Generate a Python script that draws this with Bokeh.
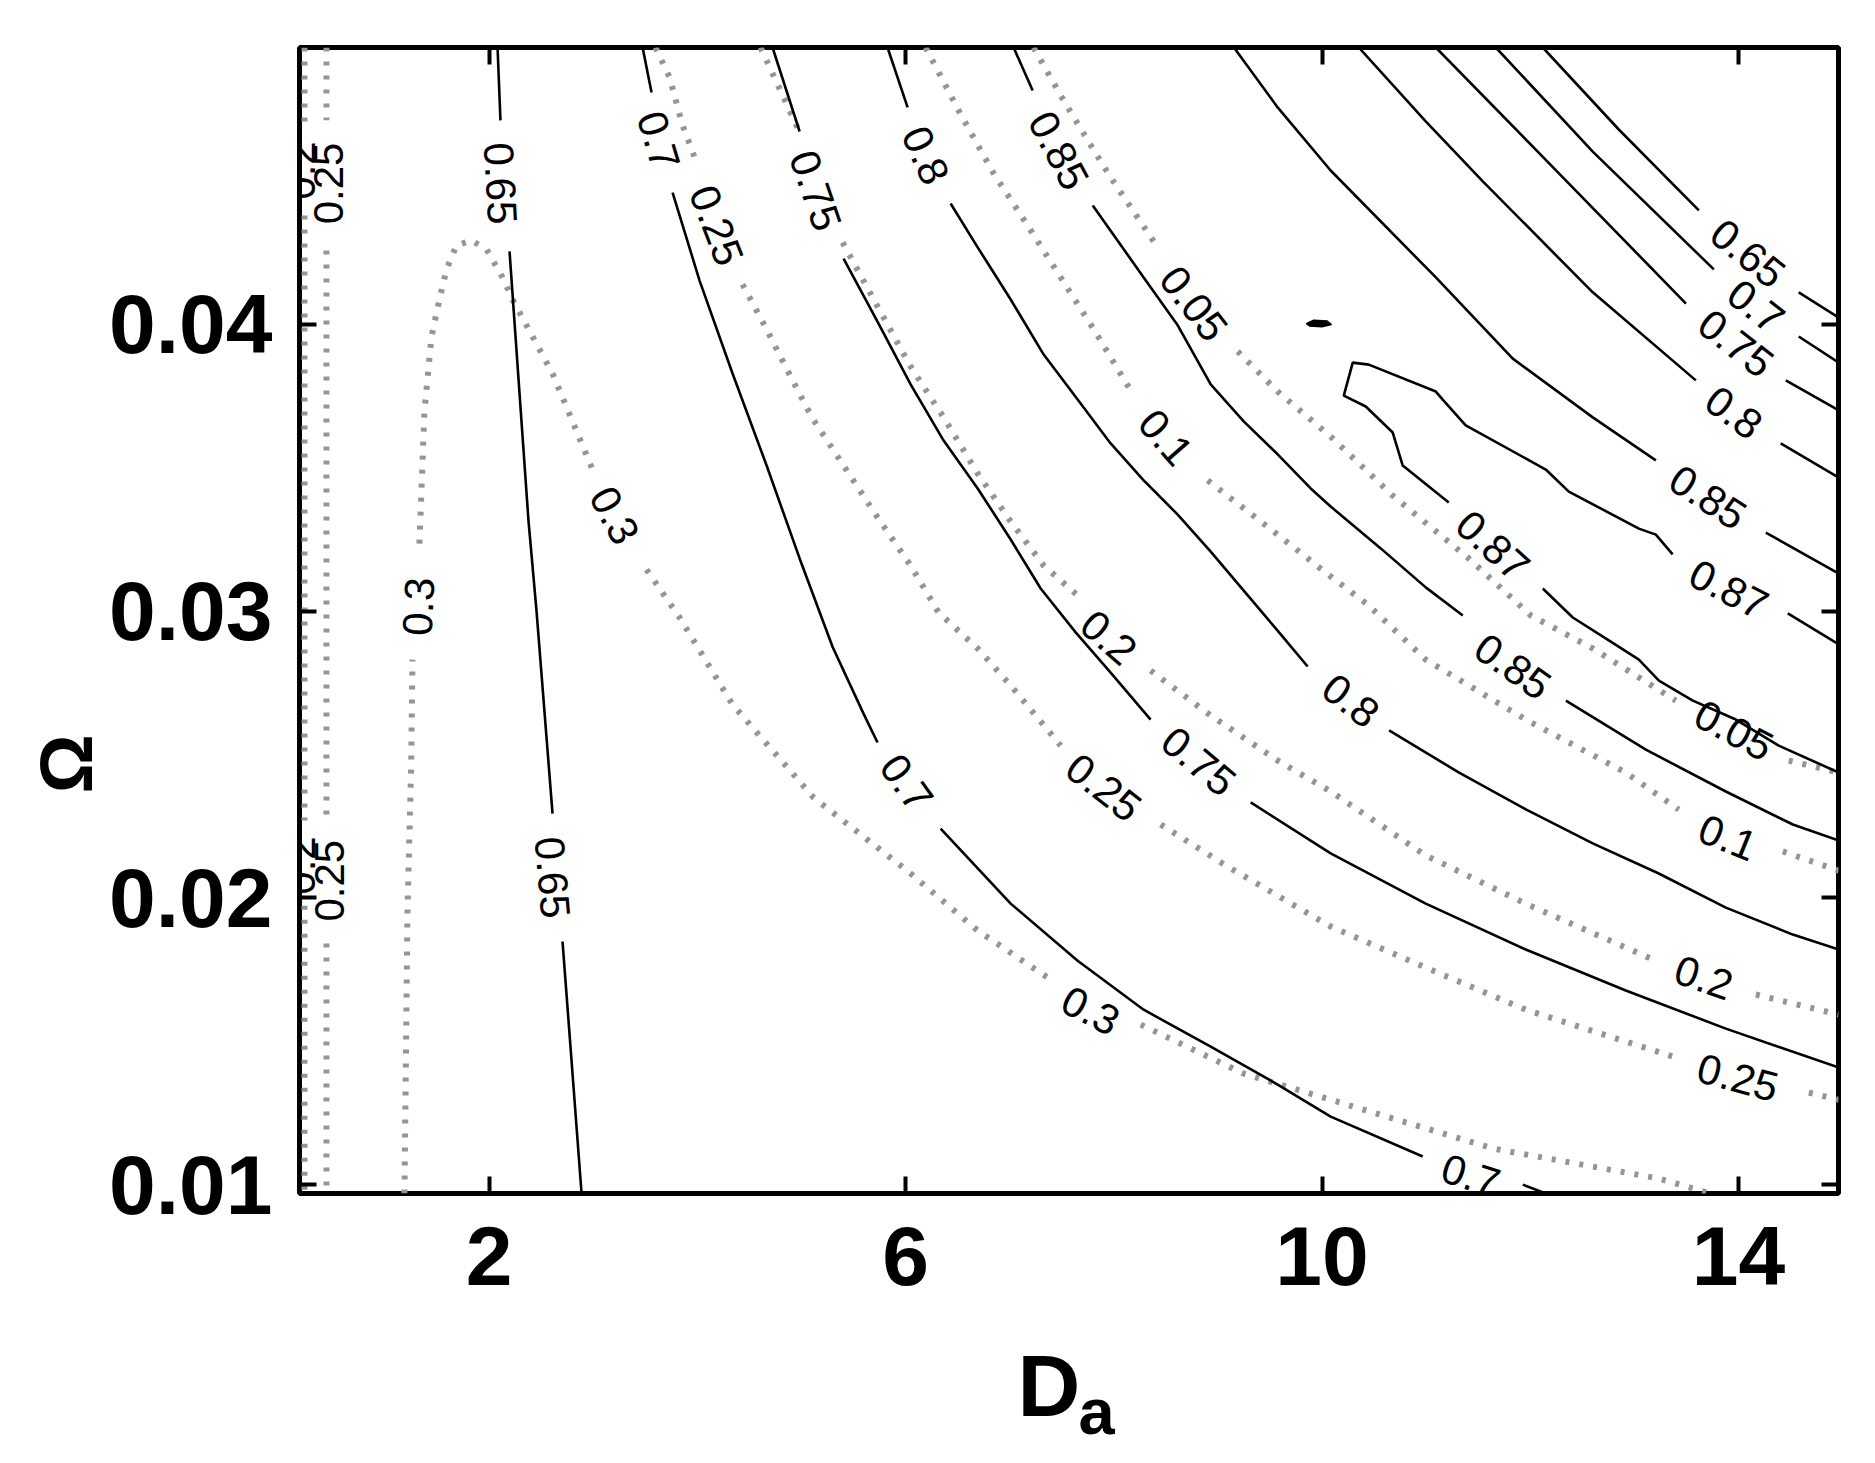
import math
from bokeh.plotting import figure
from bokeh.models import FixedTicker, LinearAxis, Range1d, Title
from bokeh.embed import file_html
from bokeh.resources import INLINE
from bokeh.core.properties import value

# ---------------- axes ----------------
x_limits = [0.18, 14.96]
y_limits = [0.00969, 0.04966]
x_ticks = [2, 6, 10, 14]
x_tick_labels = ["2", "6", "10", "14"]
y_ticks = [0.01, 0.02, 0.03, 0.04]
y_tick_labels = ["0.01", "0.02", "0.03", "0.04"]
x_title = "D"
x_title_sub = "a"
y_title = "\u03a9"

# ---------------- solid contours (segments, broken where labels sit) ----------------
c065_left = [
    [(2.082, 0.04966), (2.110, 0.04712)],
    [(2.197, 0.04255), (2.379, 0.03316), (2.456, 0.03002), (2.610, 0.02294)],
    [(2.706, 0.01848), (2.889, 0.00969)],
]
c070_low = [
    [(3.475, 0.04966), (3.561, 0.04809)],
    [(3.763, 0.04460), (4.022, 0.04153), (4.339, 0.03829), (4.666, 0.03508), (4.983, 0.03184),
     (5.300, 0.02875), (5.600, 0.02640), (5.731, 0.02542)],
    [(6.337, 0.02242), (7.010, 0.01980), (7.653, 0.01781), (8.287, 0.01610), (8.931, 0.01481),
     (9.574, 0.01349), (10.083, 0.01237), (10.967, 0.01098)],
    [(11.928, 0.01000), (12.149, 0.00969)],
]
c075_low = [
    [(4.723, 0.04966), (4.983, 0.04673)],
    [(5.405, 0.04230), (5.731, 0.04010), (6.049, 0.03791), (6.366, 0.03595), (6.693, 0.03428),
     (7.010, 0.03250), (7.298, 0.03079), (7.634, 0.02926), (7.970, 0.02786), (8.354, 0.02622)],
    [(9.315, 0.02333), (10.083, 0.02155), (10.996, 0.01980), (11.956, 0.01820), (12.917, 0.01677),
     (13.878, 0.01544), (14.963, 0.01408)],
]
c080_low = [
    [(5.827, 0.04966), (6.020, 0.04757)],
    [(6.433, 0.04422), (6.693, 0.04269), (7.010, 0.04087), (7.327, 0.03895), (7.653, 0.03738),
     (7.970, 0.03585), (8.287, 0.03456), (8.614, 0.03337), (8.931, 0.03208), (9.248, 0.03072),
     (9.555, 0.02940), (9.862, 0.02807)],
    [(10.644, 0.02584), (11.316, 0.02437), (11.962, 0.02308), (12.600, 0.02190), (13.234, 0.02085),
     (13.878, 0.01966), (14.521, 0.01872), (14.963, 0.01820)],
]
c085_low = [
    [(7.038, 0.04966), (7.221, 0.04816)],
    [(7.798, 0.04415), (8.287, 0.04164), (8.614, 0.03997), (8.931, 0.03791), (9.248, 0.03662),
     (9.574, 0.03547), (9.891, 0.03428), (10.083, 0.03365), (10.564, 0.03219), (10.996, 0.03083),
     (11.352, 0.02985)],
    [(12.342, 0.02688), (13.110, 0.02517), (13.878, 0.02371), (14.521, 0.02256), (14.963, 0.02200)],
]
c087 = [
    [(14.963, 0.02884), (14.473, 0.02992)],
    [(13.367, 0.03198), (13.206, 0.03267), (13.043, 0.03288), (12.370, 0.03417), (12.149, 0.03494),
     (12.024, 0.03519), (11.380, 0.03648), (11.159, 0.03738), (11.093, 0.03766), (10.449, 0.03860),
     (10.295, 0.03867), (10.209, 0.03752), (10.420, 0.03714), (10.679, 0.03623), (10.775, 0.03508),
     (11.217, 0.03379)],
    [(12.120, 0.03079), (12.408, 0.02978), (12.754, 0.02898), (13.043, 0.02831), (13.235, 0.02758),
     (13.561, 0.02688), (13.974, 0.02622), (14.386, 0.02531), (14.963, 0.02437)],
]
c087_islet_x = [9.85, 9.92, 10.05, 10.09, 10.00, 9.88]
c087_islet_y = [0.04003, 0.04015, 0.04012, 0.04000, 0.03992, 0.03995]
c085_up = [
    [(9.154, 0.04966), (9.574, 0.04757), (10.083, 0.04537), (11.093, 0.04164), (11.832, 0.03881),
     (12.600, 0.03676), (13.206, 0.03526)],
    [(14.262, 0.03274), (14.963, 0.03131)],
]
c080_up = [
    [(10.353, 0.04966), (10.996, 0.04708), (11.544, 0.04499), (12.600, 0.04112), (13.590, 0.03805)],
    [(14.405, 0.03585), (14.963, 0.03466)],
]
c075_up = [
    [(11.093, 0.04966), (12.275, 0.04527), (13.495, 0.04073)],
    [(14.454, 0.03805), (14.963, 0.03700)],
]
c070_up = [
    [(11.669, 0.04966), (12.600, 0.04603), (13.763, 0.04192)],
    [(14.578, 0.03958), (14.963, 0.03867)],
]
c065_up = [
    [(12.120, 0.04966), (12.850, 0.04680), (13.619, 0.04398)],
    [(14.578, 0.04112), (14.963, 0.04024)],
]

# ---------------- dotted contours ----------------
d020_left = [
    [(0.228, 0.04966), (0.228, 0.04694)],
    [(0.228, 0.04380), (0.228, 0.02270)],
    [(0.228, 0.01973), (0.228, 0.00969)],
]
d025_left = [
    [(0.439, 0.04966), (0.439, 0.04712)],
    [(0.439, 0.04258), (0.439, 0.02287)],
    [(0.439, 0.01841), (0.439, 0.00969)],
]
d030 = [
    [(1.188, 0.00969), (1.217, 0.01952), (1.252, 0.02451), (1.265, 0.02831)],
    [(1.332, 0.03236), (1.380, 0.03700), (1.448, 0.03958), (1.524, 0.04087), (1.592, 0.04192),
     (1.688, 0.04276), (1.832, 0.04293), (1.976, 0.04262), (2.130, 0.04164), (2.226, 0.04087),
     (2.418, 0.03958), (2.610, 0.03829), (2.802, 0.03662), (2.994, 0.03494)],
    [(3.513, 0.03145), (3.830, 0.02978), (4.339, 0.02674), (5.117, 0.02350), (6.049, 0.02085),
     (6.693, 0.01886), (7.394, 0.01715)],
    [(8.259, 0.01558), (9.248, 0.01387), (10.083, 0.01296), (11.640, 0.01126), (13.234, 0.01021),
     (13.733, 0.00969)],
]
d025 = [
    [(3.599, 0.04966), (3.734, 0.04862), (3.859, 0.04694), (3.993, 0.04565)],
    [(4.435, 0.04140), (4.666, 0.03983), (4.915, 0.03805), (5.107, 0.03672), (5.405, 0.03508),
     (5.731, 0.03327), (6.049, 0.03159), (6.318, 0.02995), (6.693, 0.02870), (7.010, 0.02741),
     (7.490, 0.02531)],
    [(8.451, 0.02256), (9.094, 0.02109), (10.083, 0.01900), (10.996, 0.01757), (11.956, 0.01610),
     (13.426, 0.01440)],
    [(14.675, 0.01321), (14.963, 0.01296)],
]
d020 = [
    [(4.608, 0.04966), (4.790, 0.04823), (4.983, 0.04670)],
    [(5.396, 0.04286), (5.731, 0.04063), (6.049, 0.03853), (6.366, 0.03676), (6.693, 0.03480),
     (7.010, 0.03313), (7.327, 0.03159), (7.653, 0.03055)],
    [(8.354, 0.02793), (8.931, 0.02636), (9.574, 0.02479), (10.083, 0.02371), (10.996, 0.02148),
     (11.956, 0.01980), (13.205, 0.01781)],
    [(14.166, 0.01663), (14.963, 0.01593)],
]
d010 = [
    [(6.193, 0.04966), (6.529, 0.04733), (6.846, 0.04527), (7.173, 0.04345), (7.490, 0.04164),
     (7.808, 0.03983), (8.192, 0.03752)],
    [(8.902, 0.03456), (9.411, 0.03313), (10.083, 0.03121), (10.448, 0.03020), (10.996, 0.02831),
     (11.956, 0.02622), (12.917, 0.02437), (13.426, 0.02308)],
    [(14.425, 0.02162), (14.963, 0.02095)],
]
d005 = [
    [(7.230, 0.04966), (7.490, 0.04799), (7.750, 0.04642), (7.970, 0.04513), (8.422, 0.04269)],
    [(9.190, 0.03906), (9.574, 0.03766), (10.083, 0.03609), (10.679, 0.03403), (11.409, 0.03184),
     (12.005, 0.02985), (12.600, 0.02870), (13.398, 0.02688)],
    [(14.482, 0.02479), (14.963, 0.02437)],
]

# ---------------- contour labels ----------------
label_text = ["0.65", "0.65", "0.7", "0.75", "0.8", "0.85", "0.7", "0.75", "0.8", "0.85",
              "0.87", "0.87", "0.85", "0.8", "0.75", "0.7", "0.65", "0.7",
              "0.2", "0.25", "0.2", "0.25", "0.3", "0.3", "0.25", "0.05", "0.1", "0.2",
              "0.25", "0.3", "0.05", "0.1", "0.2", "0.25"]
label_x = [2.110, 2.610, 3.628, 5.136, 6.193, 7.471, 6.011, 8.815, 10.276, 11.832,
           11.640, 13.907, 13.705, 13.955, 13.974, 14.166, 14.089, 11.428,
           0.185, 0.458, 0.185, 0.468, 1.323, 3.206, 4.185, 8.768, 8.499, 7.951,
           7.903, 7.778, 13.955, 13.897, 13.666, 13.993]
label_y = [0.04492, 0.02071, 0.04642, 0.04467, 0.04590, 0.04607, 0.02402, 0.02476, 0.02688, 0.02807,
           0.03229, 0.03076, 0.03397, 0.03693, 0.03934, 0.04063, 0.04248, 0.01031,
           0.04537, 0.04492, 0.02113, 0.02060, 0.03016, 0.03334, 0.04345, 0.04073, 0.03606, 0.02908,
           0.02385, 0.01607, 0.02584, 0.02210, 0.01722, 0.01373]
label_angle = [-87, -85, -73, -71, -66, -62, -54, -40, -38, -35,
               -42, -27, -33, -36, -38, -38, -39, -18,
               90, 90, 90, 90, 87, -62, -69, -52, -49, -41,
               -38, -27, -28, -22, -19, -15]


def flatten(contours):
    xs, ys = [], []
    for c in contours:
        for seg in c:
            xs.append([pt[0] for pt in seg])
            ys.append([pt[1] for pt in seg])
    return xs, ys


p = figure(width=1867, height=1455,
           x_range=Range1d(x_limits[0], x_limits[1]),
           y_range=Range1d(y_limits[0], y_limits[1]),
           output_backend="svg", toolbar_location=None,
           min_border_left=299, min_border_right=29,
           min_border_top=47, min_border_bottom=262)
p.background_fill_color = "white"
p.border_fill_color = "white"
p.xgrid.visible = False
p.ygrid.visible = False
p.outline_line_color = "black"
p.outline_line_width = 5

dx, dy = flatten([d020_left, d025_left, d030, d025, d020, d010, d005])
p.multi_line(dx, dy, line_color="#959595", line_width=6, line_dash="4 10", line_cap="butt")

sx, sy = flatten([c065_left, c070_low, c075_low, c080_low, c085_low, c087,
                  c085_up, c080_up, c075_up, c070_up, c065_up])
p.multi_line(sx, sy, line_color="black", line_width=2.6)
p.patch(c087_islet_x, c087_islet_y, fill_color="black", line_color="black", line_width=1.5)

p.text(x=label_x, y=label_y, text=label_text,
       angle=[math.radians(a) for a in label_angle],
       text_font=value("Liberation Sans"), text_font_size="42px",
       text_align="center", text_baseline="middle", text_color="black")


def style_axis(ax, ticks, labels, show):
    ax.ticker = FixedTicker(ticks=ticks)
    ax.axis_line_color = None
    ax.major_tick_in = 17
    ax.major_tick_out = 0
    ax.major_tick_line_width = 4
    ax.major_tick_line_color = "black"
    ax.minor_tick_line_color = None
    if show:
        ax.major_label_overrides = dict(zip(ticks, labels))
        ax.major_label_text_font = "Liberation Sans"
        ax.major_label_text_font_size = "84px"
        ax.major_label_text_font_style = "bold"
        ax.major_label_text_color = "black"
    else:
        ax.major_label_text_font_size = "10px"
        ax.major_label_text_color = None


xa = p.xaxis[0]
ya = p.yaxis[0]
style_axis(xa, x_ticks, x_tick_labels, True)
style_axis(ya, y_ticks, y_tick_labels, True)
xa.major_label_standoff = 33
ya.major_label_standoff = 27

top_ax = LinearAxis()
style_axis(top_ax, x_ticks, x_tick_labels, False)
p.add_layout(top_ax, "above")
right_ax = LinearAxis()
style_axis(right_ax, y_ticks, y_tick_labels, False)
p.add_layout(right_ax, "right")

# blank band (white, no labels) between the tick labels and the x title
spacer = LinearAxis(ticker=FixedTicker(ticks=[x_limits[0]]), axis_line_color=None,
                    major_tick_in=0, major_tick_out=49, major_tick_line_color="white",
                    major_tick_line_width=1,
                    minor_tick_in=0, minor_tick_out=0, minor_tick_line_color=None,
                    major_label_standoff=0, major_label_text_color=None,
                    major_label_text_font_size="1px")
p.add_layout(spacer, "below")

p.add_layout(Title(text=y_title, align="left", offset=400, vertical_align="bottom", standoff=-2,
                   text_font="Liberation Sans", text_font_size="74px", text_font_style="bold",
                   text_color="black"), "left")
p.add_layout(Title(text=x_title, align="left", offset=718, vertical_align="top", standoff=0,
                   text_font="Liberation Sans", text_font_size="87px", text_font_style="bold",
                   text_color="black"), "below")
p.add_layout(Title(text=x_title_sub, align="left", offset=779, vertical_align="top", standoff=-122,
                   text_font="Liberation Sans", text_font_size="65px", text_font_style="bold",
                   text_color="black"), "below")

open("out.html", "w").write(file_html(p, INLINE))
